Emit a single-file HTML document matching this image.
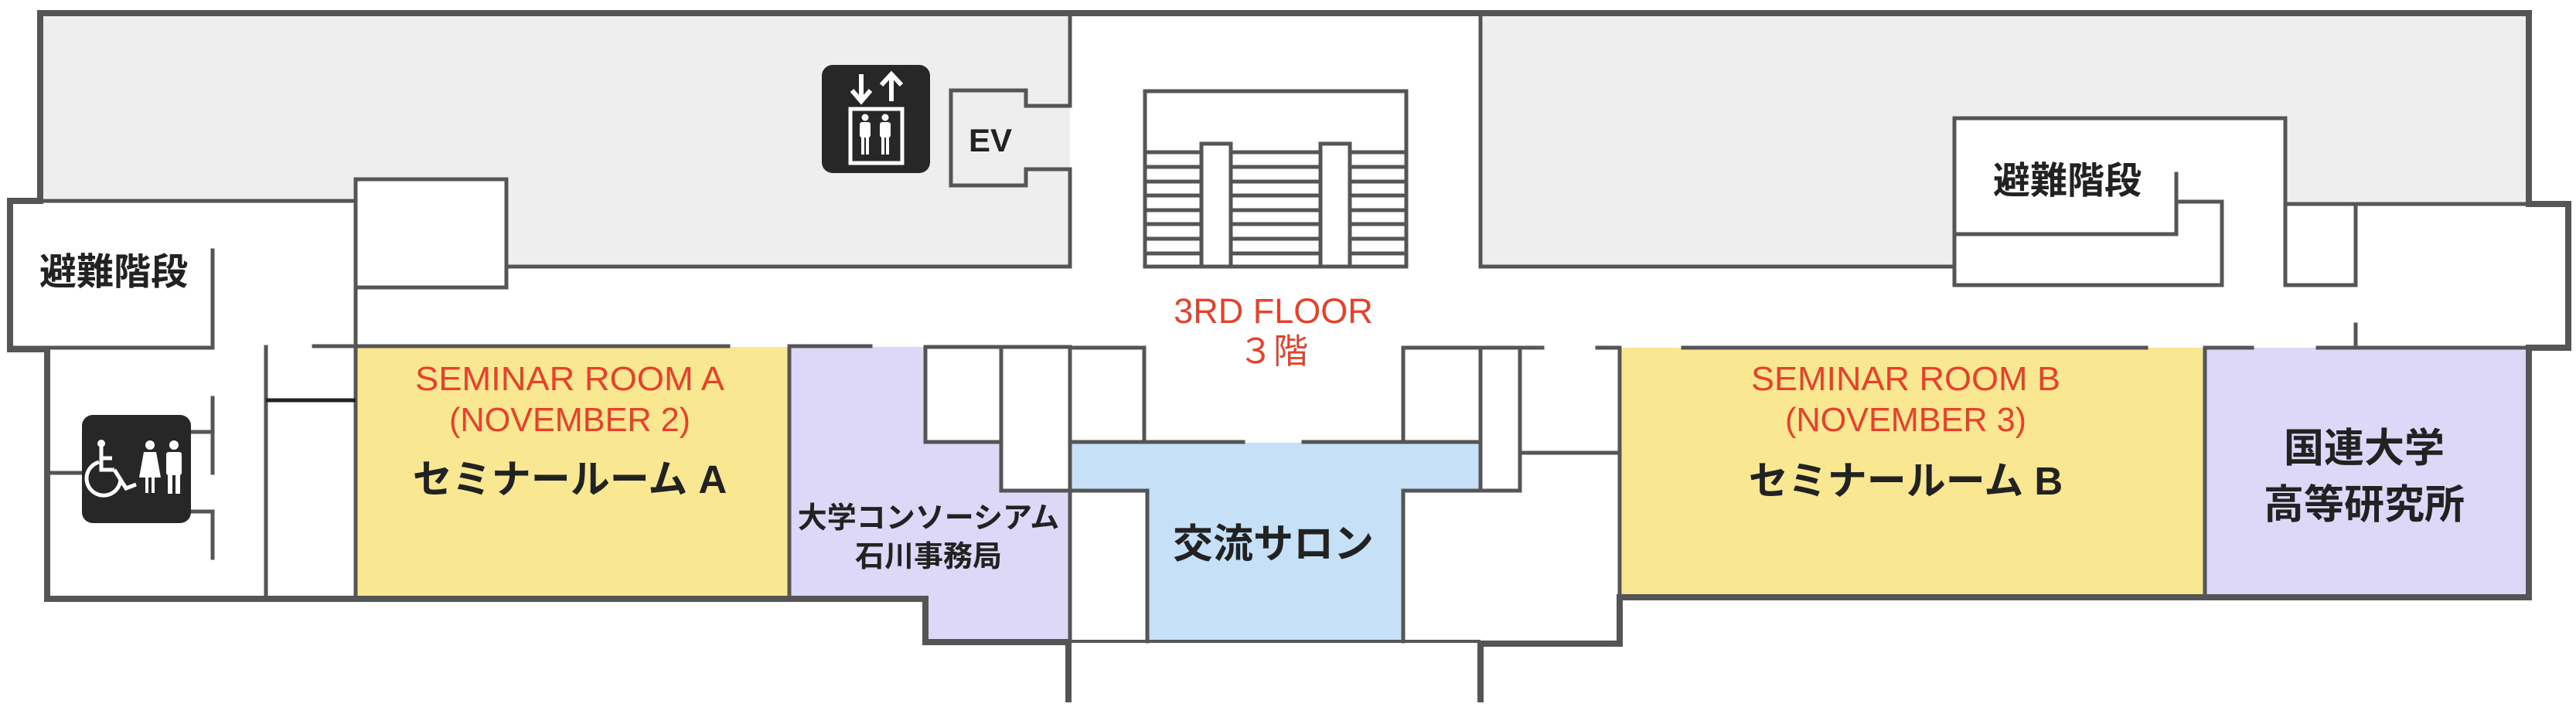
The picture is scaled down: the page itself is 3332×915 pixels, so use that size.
<!DOCTYPE html>
<html><head><meta charset="utf-8"><style>
html,body{margin:0;padding:0;background:#fff;}
svg{display:block;}
text{font-family:"Liberation Sans","Noto Sans CJK JP",sans-serif;}
</style></head><body>
<svg width="3332" height="915" viewBox="0 0 3332 915" xmlns="http://www.w3.org/2000/svg">
<path d="M52 17 H1384 V345 H655 V232 H460 V260 H52 Z" fill="#eeeeee"/>
<path d="M1915 17 H3271 V264 H2956 V153 H2528 V345 H1915 Z" fill="#eeeeee"/>
<rect x="460" y="449" width="561" height="322" fill="#fae791"/>
<rect x="2095" y="450" width="757" height="321" fill="#fae791"/>
<path d="M1021 449 H1197 V572 H1295 V635 H1384 V829 H1197 V771 H1021 Z" fill="#ddd8f8"/>
<rect x="2852" y="450" width="419" height="321" fill="#ddd8f8"/>
<path d="M1384 573 H1914 V635 H1815 V830 H1484 V635 H1384 Z" fill="#c6e0f8"/>

<g fill="none" stroke="#555" stroke-width="5" stroke-linecap="square">
<path d="M52 260 H460 V232 H655 V372 H460 V260"/>
<path d="M655 345 H1384 V219 H1327 V240 H1230 V117 H1327 V137 H1384 V17"/>
<path d="M1915 17 V345 H2528"/>
<path d="M2528 153 H2956 V369 M2528 153 V369 H2874 V261 H2815 V303 H2528 M2815 261 V225"/>
<path d="M2956 264 H3271 M2956 369 H3047 V264"/>
<path d="M3047 420 V450"/>
<rect x="1481" y="118" width="338" height="227"/>
<rect x="1554" y="186" width="38" height="159"/>
<rect x="1708" y="186" width="38" height="159"/>
<path d="M1481 197 H1554 M1592 197 H1708 M1746 197 H1819 M1481 216 H1554 M1592 216 H1708 M1746 216 H1819 M1481 235 H1554 M1592 235 H1708 M1746 235 H1819 M1481 253 H1554 M1592 253 H1708 M1746 253 H1819 M1481 272 H1554 M1592 272 H1708 M1746 272 H1819 M1481 290 H1554 M1592 290 H1708 M1746 290 H1819 M1481 309 H1554 M1592 309 H1708 M1746 309 H1819 M1481 328 H1554 M1592 328 H1708 M1746 328 H1819"/>
<path d="M13 450 H275 V324"/>
<path d="M460 376 V449 M406 448 H942"/>
<path d="M344 449 V773 M460 449 V773"/>
<path d="M275 515 V612 M247 559 H275 M275 662 V722 M247 662 H275 M61 612 H107"/>
<path d="M1021 449 V773 M1021 448 H1126"/>
<path d="M1197 449 V572 H1295 M1295 449 V635 H1384 M1197 449 H1384 M1384 449 V830"/>
<path d="M1384 450 H1480 V572 M1384 572 H1608 M1686 572 H1914 M1815 572 V450 H1995 M1915 450 V635 M1966 450 V635 M1966 586 H2095 M2066 450 H2095 V586"/>
<path d="M1384 635 H1484 V830 M1815 830 V635 H1966"/>
<path d="M2095 586 V773"/>
<path d="M2177 450 H2776 M2852 450 V773 M2852 450 H2913 M2998 450 H3271"/>
</g>
<path d="M344 518 H460" stroke="#222" stroke-width="5"/>
<g fill="none" stroke="#555" stroke-width="8" stroke-linecap="square">
<path d="M52 260 V17 H3271 V264 H3322 V450 H3271 V773 H2095 V833 H1915 V905"/>
<path d="M52 260 H13 V452 H61 V775 H1197 V831 H1382 V905"/>
</g>
<path d="M1382 830 H1915" stroke="#555" stroke-width="4"/>

<rect x="1063" y="84" width="140" height="140" rx="14" fill="#272727"/>
<g stroke="#fff" stroke-width="6" fill="none">
<path d="M1114 96 V131 M1102 117 L1114 131 L1126 117"/>
<path d="M1153 131 V96 M1140 110 L1153 96 L1166 110"/>
<rect x="1100" y="141" width="67" height="70" stroke-width="5"/>
</g>
<g fill="#fff">
<circle cx="1119" cy="152" r="4.5"/><rect x="1112" y="158" width="14" height="20" rx="3"/><rect x="1114" y="176" width="4" height="24"/><rect x="1120" y="176" width="4" height="24"/>
<circle cx="1145" cy="152" r="4.5"/><rect x="1138" y="158" width="14" height="20" rx="3"/><rect x="1140" y="176" width="4" height="24"/><rect x="1146" y="176" width="4" height="24"/>
</g>
<rect x="106" y="537" width="141" height="140" rx="14" fill="#272727"/>
<g fill="#fff" stroke="#fff">
<circle cx="131" cy="574" r="5" stroke="none"/>
<path d="M131 578 V608 H148 M131 593 H145" stroke-width="5" fill="none"/>
<path d="M128 598 A22 22 0 1 0 156 620" stroke-width="5" fill="none"/>
<path d="M148 608 L163 632 L176 627" stroke-width="5" fill="none"/>
<circle cx="194" cy="576" r="6" stroke="none"/>
<path d="M186 585 H202 L208 618 H180 Z" stroke="none"/>
<rect x="188" y="616" width="4" height="22" stroke="none"/><rect x="196" y="616" width="4" height="22" stroke="none"/>
<circle cx="225" cy="576" r="6" stroke="none"/>
<rect x="215" y="585" width="20" height="30" rx="3" stroke="none"/>
<rect x="217" y="612" width="6" height="27" stroke="none"/><rect x="227" y="612" width="6" height="27" stroke="none"/>
</g>

<g text-anchor="middle">
<text x="147" y="368" font-size="48" font-weight="bold" fill="#222">避難階段</text>
<text x="2674" y="250" font-size="48" font-weight="bold" fill="#222">避難階段</text>
<text x="1281" y="196" font-size="42" font-weight="bold" fill="#222">EV</text>
<text x="1647" y="418" font-size="45" fill="#e8412b">3RD FLOOR</text>
<text x="1647" y="470" font-size="45" fill="#e8412b">３階</text>
<text x="737" y="505" font-size="44" fill="#e8412b" textLength="400" lengthAdjust="spacingAndGlyphs">SEMINAR ROOM A</text>
<text x="737" y="558" font-size="44" fill="#e8412b" textLength="312" lengthAdjust="spacingAndGlyphs">(NOVEMBER 2)</text>
<text x="737" y="638" font-size="51" font-weight="bold" fill="#222">セミナールーム A</text>
<text x="2465" y="505" font-size="44" fill="#e8412b" textLength="400" lengthAdjust="spacingAndGlyphs">SEMINAR ROOM B</text>
<text x="2465" y="558" font-size="44" fill="#e8412b" textLength="312" lengthAdjust="spacingAndGlyphs">(NOVEMBER 3)</text>
<text x="2465" y="640" font-size="51" font-weight="bold" fill="#222">セミナールーム B</text>
<text x="1201" y="683" font-size="38" font-weight="bold" fill="#222">大学コンソーシアム</text>
<text x="1201" y="733" font-size="38" font-weight="bold" fill="#222">石川事務局</text>
<text x="1647" y="722" font-size="52" font-weight="bold" fill="#222">交流サロン</text>
<text x="3058" y="598" font-size="52" font-weight="bold" fill="#222">国連大学</text>
<text x="3058" y="671" font-size="52" font-weight="bold" fill="#222">高等研究所</text>
</g>
</svg>
</body></html>
